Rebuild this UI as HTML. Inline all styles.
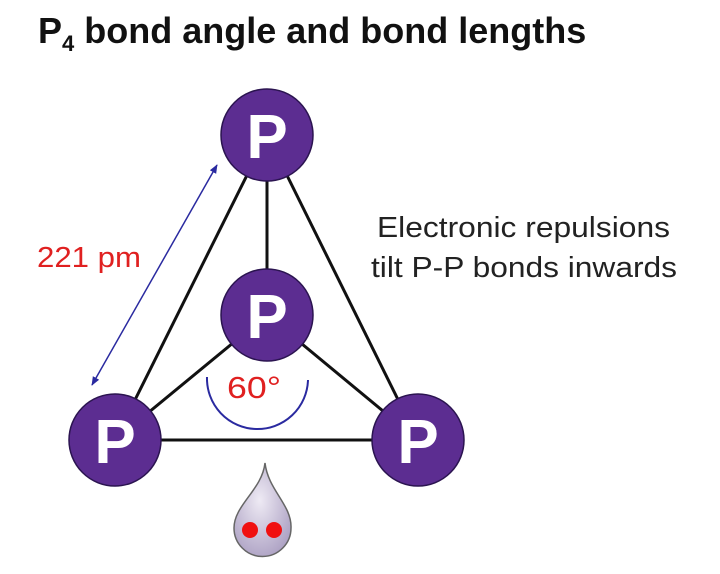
<!DOCTYPE html>
<html><head><meta charset="utf-8"><style>
html,body{margin:0;padding:0;background:#fff;}
svg{display:block;}
</style></head><body>
<svg width="720" height="574" viewBox="0 0 720 574" xmlns="http://www.w3.org/2000/svg" font-family="Liberation Sans, sans-serif">
<defs>
<marker id="ah" viewBox="0 0 10 10" refX="9" refY="5" markerWidth="6" markerHeight="6" orient="auto-start-reverse"><path d="M0,1 L10,5 L0,9 z" fill="#2a2aa0"/></marker>
<radialGradient id="dg" cx="0.45" cy="0.4" r="0.7"><stop offset="0" stop-color="#eeeaf4"/><stop offset="1" stop-color="#a89cc0"/></radialGradient>
</defs>
<text x="38" y="43" font-size="36" font-weight="bold" fill="#111">P<tspan font-size="22" dy="8">4</tspan><tspan dy="-8"> bond angle and bond lengths</tspan></text>
<g stroke="#111" stroke-width="3">
<line x1="267" y1="135" x2="115" y2="440"/>
<line x1="267" y1="135" x2="418" y2="440"/>
<line x1="267" y1="135" x2="267" y2="315"/>
<line x1="267" y1="315" x2="115" y2="440"/>
<line x1="267" y1="315" x2="418" y2="440"/>
<line x1="115" y1="440" x2="418" y2="440"/>
</g>
<line x1="217" y1="165" x2="92" y2="385" stroke="#2a2aa0" stroke-width="1.5" marker-start="url(#ah)" marker-end="url(#ah)"/>
<path d="M207,377 A50,50 0 0 0 308,380" fill="none" stroke="#2a2aa0" stroke-width="2"/>
<g fill="#5c2d91" stroke="#2b1450" stroke-width="1.5">
<circle cx="267" cy="135" r="46"/>
<circle cx="267" cy="315" r="46"/>
<circle cx="115" cy="440" r="46"/>
<circle cx="418" cy="440" r="46"/>
</g>
<g fill="#fff" font-size="62" font-weight="bold" text-anchor="middle">
<text x="267" y="158">P</text>
<text x="267" y="338">P</text>
<text x="115" y="463">P</text>
<text x="418" y="463">P</text>
</g>
<text x="37" y="267" font-size="29" fill="#e02020" textLength="104" lengthAdjust="spacingAndGlyphs">221 pm</text>
<text x="227" y="398" font-size="31" fill="#e02020" textLength="54" lengthAdjust="spacingAndGlyphs">60°</text>
<text x="377" y="237" font-size="29" fill="#222" textLength="293" lengthAdjust="spacingAndGlyphs">Electronic repulsions</text>
<text x="371" y="277" font-size="29" fill="#222" textLength="306" lengthAdjust="spacingAndGlyphs">tilt P-P bonds inwards</text>
<path d="M265,463 C268,490 292,505 291,528 A28,28 0 1 1 234,528 C234,505 262,490 265,463 z" fill="url(#dg)" stroke="#666" stroke-width="1.5"/>
<circle cx="250" cy="530" r="8" fill="#f01010"/>
<circle cx="274" cy="530" r="8" fill="#f01010"/>
</svg>
</body></html>
